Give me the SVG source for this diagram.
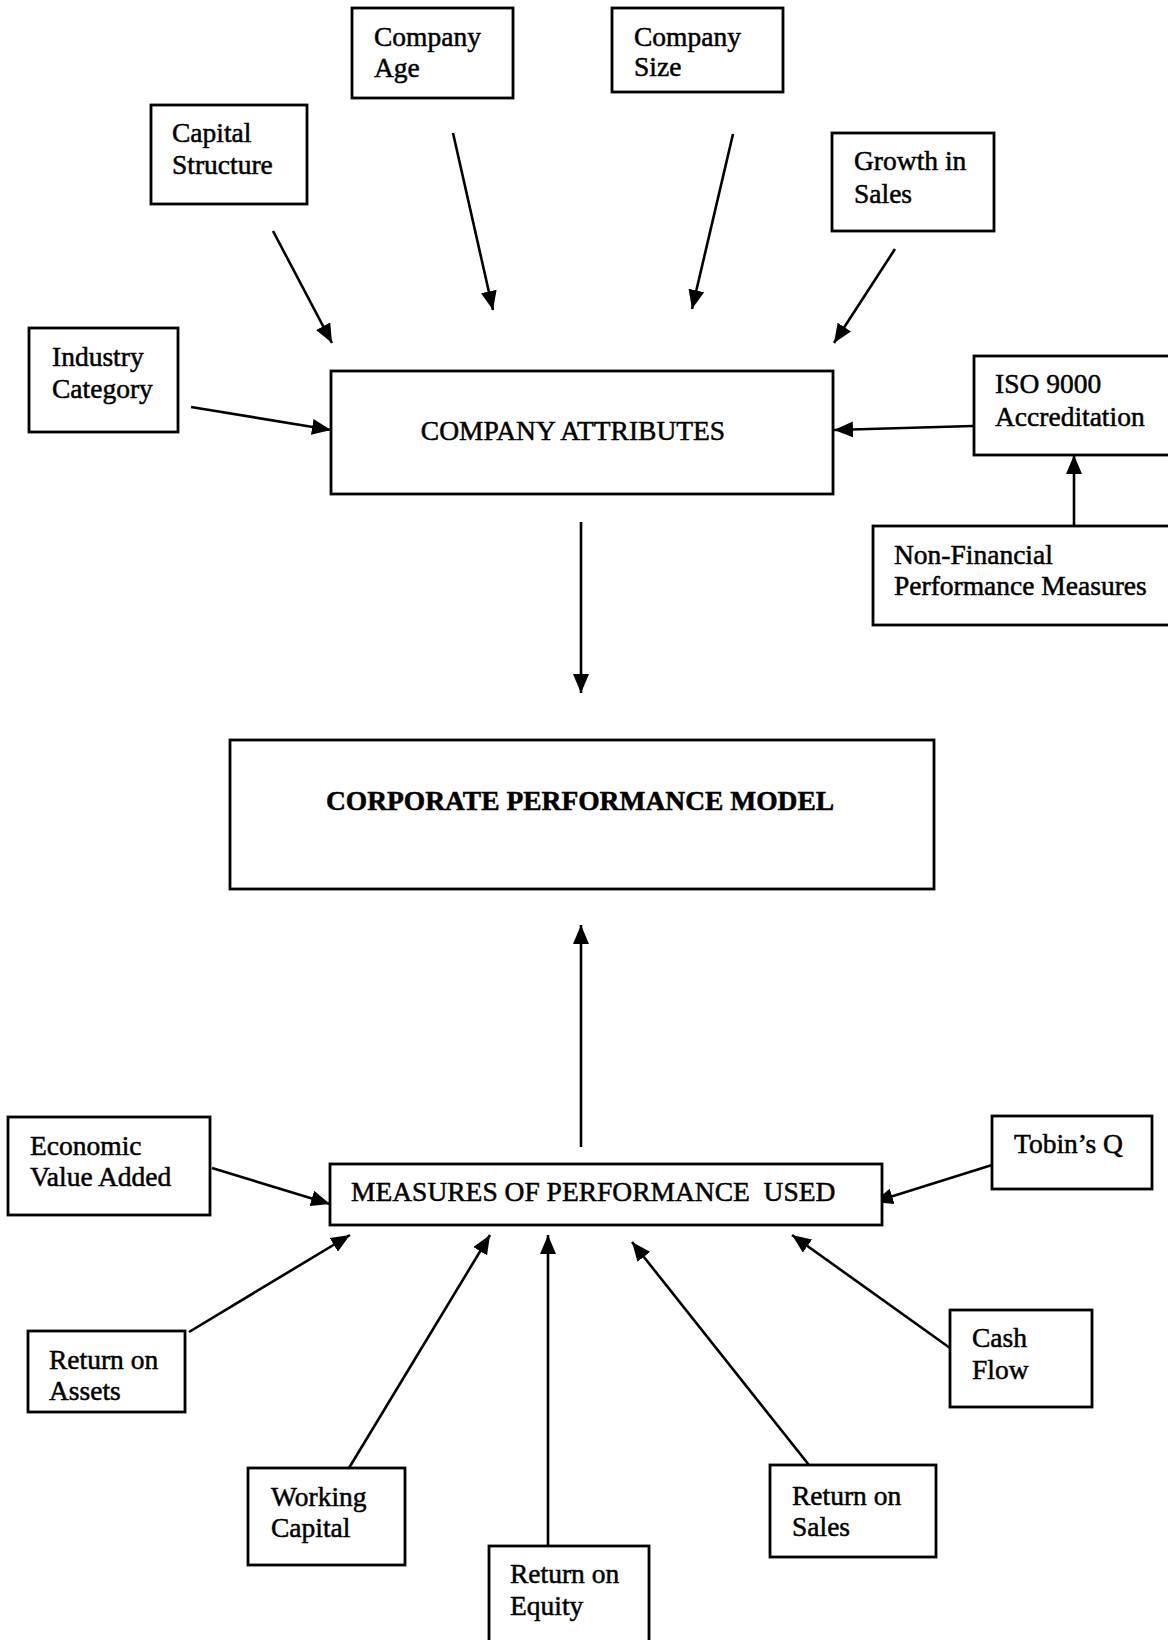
<svg xmlns="http://www.w3.org/2000/svg" width="1168" height="1640" viewBox="0 0 1168 1640">
<style>
.box{fill:#fff;stroke:#000;stroke-width:2.8}
.t{font-family:"Liberation Serif","Times New Roman",serif;font-size:27.5px;fill:#000;stroke:#000;stroke-width:0.5}
.b{font-weight:bold}
.c{fill:none;stroke:#000;stroke-width:2.6}
</style>
<defs>
<marker id="ah" markerUnits="userSpaceOnUse" markerWidth="20" markerHeight="16" refX="19" refY="8" orient="auto">
<path d="M0,0 L19,8 L0,16 Z" fill="#000"/>
</marker>
</defs>
<rect width="1168" height="1640" fill="#fff"/>
<g id="connectors">
<line class="c" x1="273" y1="231" x2="332" y2="343" marker-end="url(#ah)"/>
<line class="c" x1="453" y1="133" x2="493" y2="310" marker-end="url(#ah)"/>
<line class="c" x1="733" y1="134" x2="692" y2="309" marker-end="url(#ah)"/>
<line class="c" x1="895" y1="249" x2="834" y2="343" marker-end="url(#ah)"/>
<line class="c" x1="191" y1="407" x2="331" y2="430" marker-end="url(#ah)"/>
<line class="c" x1="973" y1="426" x2="834" y2="430" marker-end="url(#ah)"/>
<line class="c" x1="1074" y1="526" x2="1074" y2="455" marker-end="url(#ah)"/>
<line class="c" x1="581" y1="522" x2="581" y2="693" marker-end="url(#ah)"/>
<line class="c" x1="581" y1="1147" x2="581" y2="925" marker-end="url(#ah)"/>
<line class="c" x1="212" y1="1168" x2="330" y2="1204" marker-end="url(#ah)"/>
<line class="c" x1="992" y1="1165" x2="874" y2="1202" marker-end="url(#ah)"/>
<line class="c" x1="189" y1="1332" x2="350" y2="1235" marker-end="url(#ah)"/>
<line class="c" x1="349" y1="1468" x2="490" y2="1235" marker-end="url(#ah)"/>
<line class="c" x1="548" y1="1546" x2="548" y2="1235" marker-end="url(#ah)"/>
<line class="c" x1="809" y1="1465" x2="632" y2="1242" marker-end="url(#ah)"/>
<line class="c" x1="950" y1="1348" x2="792" y2="1235" marker-end="url(#ah)"/>
</g>
<g id="capital-structure"><rect class="box" x="151" y="105" width="156" height="99"/><text class="t" x="172" y="142">Capital</text><text class="t" x="172" y="174">Structure</text></g>
<g id="company-age"><rect class="box" x="352" y="8" width="161" height="90"/><text class="t" x="374" y="46">Company</text><text class="t" x="374" y="77">Age</text></g>
<g id="company-size"><rect class="box" x="612" y="8" width="171" height="84"/><text class="t" x="634" y="46">Company</text><text class="t" x="634" y="76">Size</text></g>
<g id="growth-in-sales"><rect class="box" x="832" y="133" width="162" height="98"/><text class="t" x="854" y="170">Growth in</text><text class="t" x="854" y="203">Sales</text></g>
<g id="industry-category"><rect class="box" x="29" y="328" width="149" height="104"/><text class="t" x="52" y="366">Industry</text><text class="t" x="52" y="398">Category</text></g>
<g id="company-attributes"><rect class="box" x="331" y="371" width="502" height="123"/><text class="t" x="573" y="440" text-anchor="middle">COMPANY ATTRIBUTES</text></g>
<g id="iso-9000"><rect class="box" x="974" y="356" width="196" height="99"/><text class="t" x="995" y="393">ISO 9000</text><text class="t" x="995" y="426">Accreditation</text></g>
<g id="non-financial"><rect class="box" x="873" y="526" width="297" height="99"/><text class="t" x="894" y="564">Non-Financial</text><text class="t" x="894" y="595">Performance Measures</text></g>
<g id="corporate-performance-model"><rect class="box" x="230" y="740" width="704" height="149"/><text class="t b" x="580" y="810" text-anchor="middle">CORPORATE PERFORMANCE MODEL</text></g>
<g id="measures-of-performance"><rect class="box" x="330" y="1164" width="552" height="61"/><text class="t" x="351" y="1201" xml:space="preserve">MEASURES OF PERFORMANCE  USED</text></g>
<g id="economic-value-added"><rect class="box" x="8" y="1117" width="202" height="98"/><text class="t" x="30" y="1155">Economic</text><text class="t" x="30" y="1186">Value Added</text></g>
<g id="tobins-q"><rect class="box" x="992" y="1116" width="160" height="73"/><text class="t" x="1014" y="1153">Tobin’s Q</text></g>
<g id="return-on-assets"><rect class="box" x="28" y="1331" width="157" height="81"/><text class="t" x="49" y="1369">Return on</text><text class="t" x="49" y="1400">Assets</text></g>
<g id="working-capital"><rect class="box" x="248" y="1468" width="157" height="97"/><text class="t" x="271" y="1506">Working</text><text class="t" x="271" y="1537">Capital</text></g>
<g id="return-on-equity"><rect class="box" x="489" y="1546" width="160" height="100"/><text class="t" x="510" y="1583">Return on</text><text class="t" x="510" y="1615">Equity</text></g>
<g id="return-on-sales"><rect class="box" x="770" y="1465" width="166" height="92"/><text class="t" x="792" y="1505">Return on</text><text class="t" x="792" y="1536">Sales</text></g>
<g id="cash-flow"><rect class="box" x="950" y="1310" width="142" height="97"/><text class="t" x="972" y="1347">Cash</text><text class="t" x="972" y="1379">Flow</text></g>
</svg>
